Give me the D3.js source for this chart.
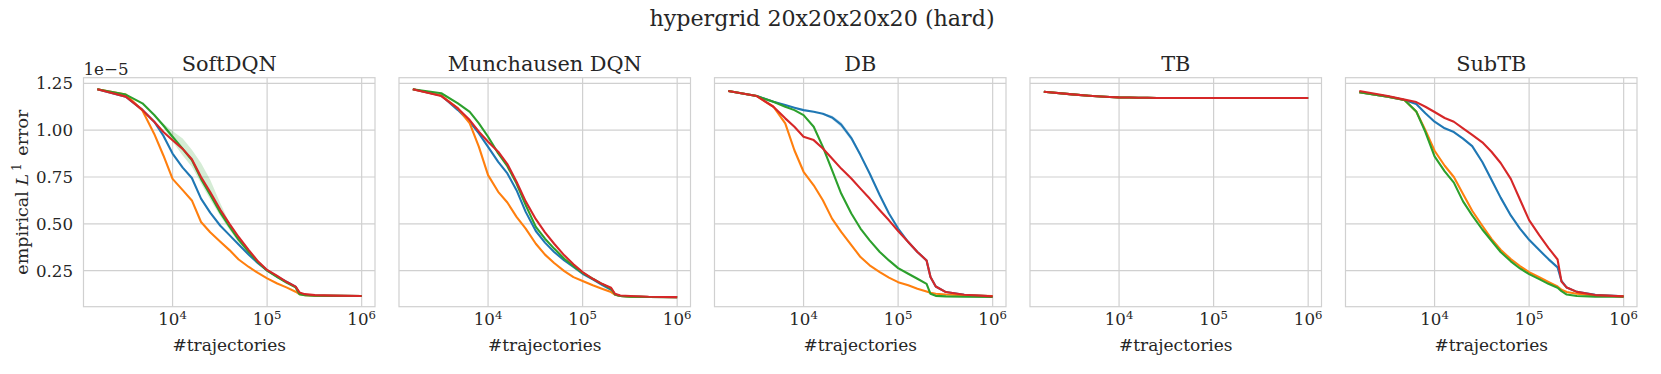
<!DOCTYPE html>
<html>
<head>
<meta charset="utf-8">
<script src="https://cdn.jsdelivr.net/npm/d3@7/dist/d3.min.js"></script>
<style>
  body { margin: 0; background: #ffffff; }
  text { font-family: "DejaVu Serif", serif; fill: #262626; }
</style>
</head>
<body>
<script>
"use strict";

// number of trajectories at each evaluation point (shared by every panel)
const xSteps = [1600, 3200, 4800, 6400, 8000, 10000, 12800, 16000, 20000, 25000, 32000, 40000,
                50000, 64000, 80000, 100000, 128000, 160000, 200000, 220000, 250000, 320000, 500000, 1000000];

const panelTitles = ["SoftDQN", "Munchausen DQN", "DB", "TB", "SubTB"];
const seriesColors = ["#1f77b4", "#ff7f0e", "#2ca02c", "#d62728"];
const yTicks = [0.25, 0.50, 0.75, 1.00, 1.25];
const yTickLabels = ["0.25", "0.50", "0.75", "1.00", "1.25"];
const xTicks = [1e4, 1e5, 1e6];
const xTickExps = ["4", "5", "6"];

// empirical L1 error, in units of 1e-5
const softdqnBlue   = [1.218, 1.179, 1.108, 1.045, 0.970, 0.875, 0.800, 0.745, 0.635, 0.560, 0.490, 0.440, 0.390, 0.335, 0.290, 0.252, 0.218, 0.191, 0.165, 0.129, 0.122, 0.118, 0.116, 0.115];
const softdqnOrange = [1.218, 1.190, 1.105, 0.980, 0.865, 0.740, 0.680, 0.625, 0.510, 0.455, 0.405, 0.360, 0.310, 0.270, 0.238, 0.209, 0.182, 0.161, 0.138, 0.125, 0.120, 0.117, 0.116, 0.115];
const softdqnGreen  = [1.218, 1.190, 1.143, 1.081, 1.025, 0.965, 0.900, 0.840, 0.740, 0.655, 0.560, 0.485, 0.415, 0.350, 0.295, 0.250, 0.216, 0.187, 0.161, 0.125, 0.119, 0.117, 0.116, 0.115];
const softdqnRed    = [1.218, 1.179, 1.108, 1.045, 0.990, 0.946, 0.900, 0.845, 0.750, 0.670, 0.575, 0.500, 0.430, 0.360, 0.300, 0.254, 0.222, 0.191, 0.165, 0.134, 0.125, 0.120, 0.117, 0.115];
// confidence band of the SoftDQN green run
const softdqnGreenLo = [1.218, 1.190, 1.143, 1.081, 1.015, 0.940, 0.865, 0.805, 0.715, 0.630, 0.540, 0.468, 0.400, 0.343, 0.292, 0.250, 0.216, 0.187, 0.161, 0.125, 0.119, 0.117, 0.116, 0.115];
const softdqnGreenHi = [1.218, 1.190, 1.143, 1.081, 1.035, 0.995, 0.955, 0.895, 0.825, 0.735, 0.610, 0.505, 0.425, 0.362, 0.302, 0.250, 0.216, 0.187, 0.161, 0.125, 0.119, 0.117, 0.116, 0.115];

const mdqnBlue   = [1.218, 1.185, 1.107, 1.045, 0.983, 0.911, 0.831, 0.769, 0.680, 0.564, 0.462, 0.400, 0.350, 0.305, 0.270, 0.234, 0.204, 0.175, 0.148, 0.123, 0.115, 0.112, 0.110, 0.109];
const mdqnOrange = [1.218, 1.185, 1.116, 1.036, 0.911, 0.760, 0.671, 0.614, 0.537, 0.475, 0.394, 0.336, 0.291, 0.248, 0.216, 0.195, 0.172, 0.154, 0.136, 0.122, 0.115, 0.112, 0.110, 0.109];
const mdqnGreen  = [1.218, 1.197, 1.143, 1.098, 1.036, 0.965, 0.876, 0.808, 0.715, 0.600, 0.484, 0.421, 0.368, 0.314, 0.275, 0.239, 0.207, 0.180, 0.154, 0.123, 0.115, 0.112, 0.110, 0.109];
const mdqnRed    = [1.218, 1.182, 1.116, 1.054, 0.992, 0.938, 0.885, 0.819, 0.725, 0.620, 0.525, 0.455, 0.394, 0.332, 0.284, 0.243, 0.207, 0.180, 0.159, 0.127, 0.118, 0.115, 0.111, 0.109];

const dbBlue   = [1.209, 1.182, 1.152, 1.134, 1.120, 1.107, 1.098, 1.088, 1.068, 1.030, 0.958, 0.867, 0.769, 0.653, 0.555, 0.475, 0.403, 0.350, 0.305, 0.216, 0.166, 0.136, 0.122, 0.113];
const dbOrange = [1.209, 1.182, 1.125, 1.036, 0.893, 0.778, 0.706, 0.626, 0.528, 0.457, 0.386, 0.323, 0.279, 0.243, 0.213, 0.189, 0.172, 0.154, 0.139, 0.132, 0.127, 0.123, 0.119, 0.115];
const dbGreen  = [1.209, 1.182, 1.152, 1.125, 1.107, 1.080, 1.018, 0.911, 0.787, 0.662, 0.555, 0.475, 0.412, 0.350, 0.305, 0.264, 0.234, 0.207, 0.180, 0.127, 0.116, 0.113, 0.111, 0.110];
const dbRed    = [1.209, 1.182, 1.125, 1.063, 1.018, 0.965, 0.947, 0.902, 0.849, 0.795, 0.742, 0.688, 0.635, 0.573, 0.519, 0.462, 0.403, 0.350, 0.305, 0.216, 0.166, 0.136, 0.122, 0.113];
// half width of the thin band around the DB blue run
const dbBlueSpread = [0, 0, 0, 0, 0, 0, 0, 0.004, 0.010, 0.014, 0.014, 0.010, 0.006, 0.003, 0, 0, 0, 0, 0, 0, 0, 0, 0, 0];

const tbAll = [1.205, 1.191, 1.184, 1.180, 1.177, 1.175, 1.174, 1.173, 1.173, 1.172, 1.172, 1.172, 1.172, 1.172, 1.172, 1.172, 1.172, 1.172, 1.172, 1.172, 1.172, 1.172, 1.172, 1.172];

const subtbBlue   = [1.202, 1.179, 1.161, 1.140, 1.090, 1.045, 1.010, 0.990, 0.955, 0.915, 0.830, 0.735, 0.640, 0.545, 0.475, 0.415, 0.360, 0.312, 0.268, 0.195, 0.160, 0.137, 0.121, 0.113];
const subtbOrange = [1.202, 1.179, 1.161, 1.100, 1.000, 0.890, 0.810, 0.750, 0.660, 0.570, 0.490, 0.420, 0.362, 0.312, 0.275, 0.242, 0.215, 0.190, 0.166, 0.148, 0.136, 0.127, 0.118, 0.113];
const subtbGreen  = [1.202, 1.179, 1.161, 1.100, 0.990, 0.860, 0.780, 0.720, 0.620, 0.545, 0.470, 0.410, 0.350, 0.300, 0.262, 0.232, 0.205, 0.180, 0.159, 0.141, 0.123, 0.115, 0.112, 0.111];
const subtbRed    = [1.209, 1.182, 1.163, 1.150, 1.125, 1.097, 1.065, 1.045, 1.010, 0.975, 0.935, 0.885, 0.825, 0.740, 0.630, 0.520, 0.440, 0.372, 0.310, 0.192, 0.160, 0.137, 0.120, 0.113];
const subtbBlueSpread = [0, 0, 0, 0, 0, 0, 0, 0, 0, 0, 0.006, 0.010, 0.010, 0.006, 0, 0, 0, 0, 0, 0, 0, 0, 0, 0];

const panelSeries = [
    [softdqnBlue, softdqnOrange, softdqnGreen, softdqnRed],
    [mdqnBlue, mdqnOrange, mdqnGreen, mdqnRed],
    [dbBlue, dbOrange, dbGreen, dbRed],
    [tbAll, tbAll, tbAll, tbAll],
    [subtbBlue, subtbOrange, subtbGreen, subtbRed]
];

// shaded bands: panel, series index, lower and upper edges
const bands = [
    {panel: 0, series: 2, lo: softdqnGreenLo, hi: softdqnGreenHi},
    {panel: 2, series: 0, lo: dbBlue.map((v, i) => v - dbBlueSpread[i]), hi: dbBlue.map((v, i) => v + dbBlueSpread[i])},
    {panel: 4, series: 0, lo: subtbBlue.map((v, i) => v - subtbBlueSpread[i]), hi: subtbBlue.map((v, i) => v + subtbBlueSpread[i])}
];

// layout, in pixels
const fig = {width: 1661, height: 374};
const ax = {left: 83.5, pitch: 315.5, width: 291.5, top: 77.7, height: 229};
const gridColor = "#d0d0d0";

const svg = d3.select('body').append('svg')
    .attr('width', fig.width)
    .attr('height', fig.height);

// scales shared by every panel (sharey)
const xScale = d3.scaleLog()
    .domain([Math.pow(10, 3.058), Math.pow(10, 6.141)])
    .range([0, ax.width]);
const yScale = d3.scaleLinear()
    .domain([0.058, 1.28])
    .range([ax.height, 0]);

const line = d3.line()
    .x((d, i) => xScale(xSteps[i]))
    .y(d => yScale(d));

svg.append('text')
    .attr('x', 822)
    .attr('y', 26)
    .attr('text-anchor', 'middle')
    .style('font-size', '22.2px')
    .text('hypergrid 20x20x20x20 (hard)');

panelTitles.forEach((title, p) => {
    const g = svg.append('g')
        .attr('transform', 'translate(' + (ax.left + p * ax.pitch) + ',' + ax.top + ')');

    // grid
    g.selectAll('.vgrid').data(xTicks).enter()
        .append('line')
        .attr('x1', d => xScale(d)).attr('x2', d => xScale(d))
        .attr('y1', 0).attr('y2', ax.height)
        .attr('stroke', gridColor).attr('stroke-width', 1.2);
    g.selectAll('.hgrid').data(yTicks).enter()
        .append('line')
        .attr('x1', 0).attr('x2', ax.width)
        .attr('y1', d => yScale(d)).attr('y2', d => yScale(d))
        .attr('stroke', gridColor).attr('stroke-width', 1.2);

    // frame
    g.append('rect')
        .attr('width', ax.width).attr('height', ax.height)
        .attr('fill', 'none')
        .attr('stroke', gridColor).attr('stroke-width', 1.2);

    // bands
    bands.filter(b => b.panel === p).forEach(b => {
        const area = d3.area()
            .x((d, i) => xScale(xSteps[i]))
            .y0((d, i) => yScale(b.lo[i]))
            .y1((d, i) => yScale(b.hi[i]));
        g.append('path')
            .attr('d', area(b.lo))
            .attr('fill', seriesColors[b.series])
            .attr('fill-opacity', 0.2);
    });

    // lines
    panelSeries[p].forEach((values, s) => {
        g.append('path')
            .attr('d', line(values))
            .attr('fill', 'none')
            .attr('stroke', seriesColors[s])
            .attr('stroke-width', 2.1)
            .attr('stroke-linejoin', 'round');
    });

    // x tick labels with exponents
    xTicks.forEach((t, k) => {
        const label = g.append('text')
            .attr('x', xScale(t))
            .attr('y', ax.height + 18.5)
            .attr('text-anchor', 'middle')
            .style('font-size', '16.67px');
        label.append('tspan').text('10');
        label.append('tspan')
            .attr('dy', -6.5)
            .style('font-size', '11.7px')
            .text(xTickExps[k]);
    });

    g.append('text')
        .attr('x', ax.width / 2)
        .attr('y', ax.height + 44.5)
        .attr('text-anchor', 'middle')
        .style('font-size', '17px')
        .text('#trajectories');

    g.append('text')
        .attr('x', ax.width / 2)
        .attr('y', -6.5)
        .attr('text-anchor', 'middle')
        .style('font-size', '20.83px')
        .text(title);

    if (p === 0) {
        g.selectAll('.ytick').data(yTicks).enter()
            .append('text')
            .attr('x', -10.5)
            .attr('y', d => yScale(d))
            .attr('dy', '0.36em')
            .attr('text-anchor', 'end')
            .style('font-size', '16.67px')
            .text((d, i) => yTickLabels[i]);

        g.append('text')
            .attr('x', 0)
            .attr('y', -3)
            .style('font-size', '16.67px')
            .text('1e\u22125');

        const ylab = g.append('text')
            .attr('transform', 'translate(' + (-55.5) + ',' + (ax.height / 2) + ') rotate(-90)')
            .attr('text-anchor', 'middle')
            .style('font-size', '17.5px');
        ylab.append('tspan').text('empirical ');
        ylab.append('tspan').style('font-style', 'italic').text('L');
        ylab.append('tspan').attr('dx', 3).attr('dy', -7).style('font-size', '12.2px').text('1');
        ylab.append('tspan').attr('dx', 2).attr('dy', 7).text(' error');
    }
});
</script>
</body>
</html>
